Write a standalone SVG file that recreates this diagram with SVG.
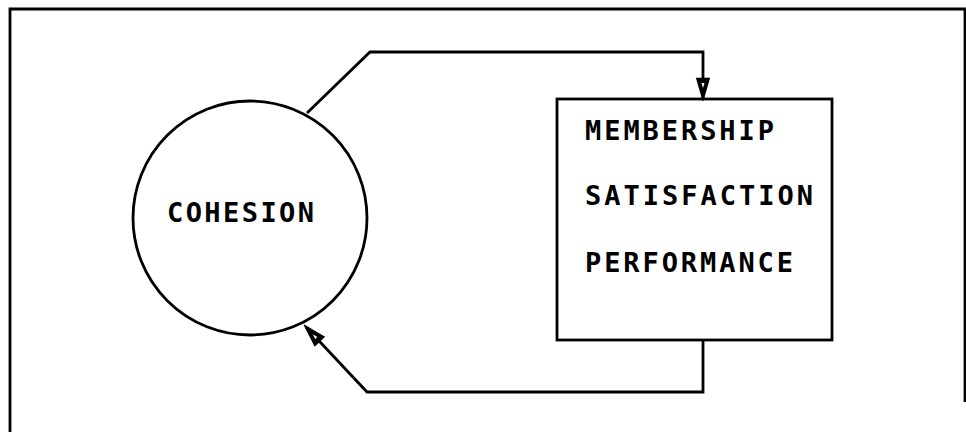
<svg xmlns="http://www.w3.org/2000/svg" width="966" height="432" viewBox="0 0 966 432">
<style>
.ln{fill:none;stroke:#000;stroke-width:2.8;stroke-linejoin:miter}
.lbl{font-family:"DejaVu Sans Mono","Liberation Mono",monospace;font-size:27px;font-weight:bold;fill:#000}
</style>
<defs>
<marker id="ah" markerUnits="userSpaceOnUse" viewBox="-3 -10 26 20" refX="20" refY="0" markerWidth="26" markerHeight="20" orient="auto">
<path d="M1,-5.5 L20,0 L1,5.5 Z" fill="#000" stroke="#000" stroke-width="2.5" stroke-linejoin="miter"/>
<path d="M5,-1.5 L10,0 L5,1.5 Z" fill="#fff"/>
</marker>
</defs>
<rect width="966" height="432" fill="#fff"/>
<path class="ln" d="M10,432 L10,9 L965,9 L965,402" stroke-width="2.2"/>
<g id="cohesion">
<circle cx="250" cy="218" r="117" class="ln"/>
<text class="lbl" x="167" y="222" textLength="147" lengthAdjust="spacing">COHESION</text>
</g>
<g id="outcomes">
<rect x="557" y="99" width="275" height="241" class="ln"/>
<text class="lbl" x="585" y="140" textLength="189" lengthAdjust="spacing">MEMBERSHIP</text>
<text class="lbl" x="585" y="205" textLength="228" lengthAdjust="spacing">SATISFACTION</text>
<text class="lbl" x="585" y="272" textLength="208" lengthAdjust="spacing">PERFORMANCE</text>
</g>
<g id="connectors">
<path class="ln" d="M307,113 L370,52 L703,52 L703,98" marker-end="url(#ah)"/>
<path class="ln" d="M703,340 L703,392 L367,392 L306,327" marker-end="url(#ah)"/>
</g>
</svg>
